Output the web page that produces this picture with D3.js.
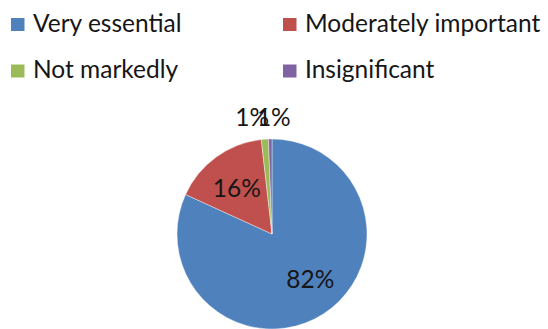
<!DOCTYPE html>
<html>
<head>
<meta charset="utf-8">
<script src="https://cdn.jsdelivr.net/npm/d3@7"></script>
<style>
  html, body { margin: 0; padding: 0; background: #fff; }
  svg { display: block; font-family: Lato, "Open Sans", sans-serif; }
</style>
</head>
<body>
<svg id="chart" width="548" height="329"></svg>
<script>
// Survey answers and their shares
const categories = ["Very essential", "Moderately important", "Not markedly", "Insignificant"];
const shares = [81.9, 16.4, 1.2, 0.6];
const colors = ["#4F81BD", "#C0504D", "#9BBB59", "#8064A2"];

const svg = d3.select("#chart");
const textColor = "#161616";
const fontSize = 24.5;

// Legend: two columns, two rows (y values are text baselines)
const legendCol = d3.scaleOrdinal().domain([0, 1]).range([11, 283]);
const legendRow = d3.scaleOrdinal().domain([0, 1]).range([31.5, 78]);
const legend = svg.append("g").attr("class", "legend");
categories.forEach((name, i) => {
  const g = legend.append("g")
    .attr("transform", `translate(${legendCol(i % 2)},${legendRow(Math.floor(i / 2))})`);
  g.append("rect").attr("x", 0).attr("y", -13.5).attr("width", 13.5).attr("height", 13)
    .attr("fill", colors[i]);
  g.append("text").attr("x", 22).attr("y", 0)
    .attr("font-size", fontSize).attr("fill", textColor).text(name);
});

// Pie, clockwise from twelve o'clock
const cx = 272, cy = 234, r = 95;
const pie = d3.pie().value(d => d).sort(null);
const arcs = pie(shares);
const total = d3.sum(shares);
const arc = d3.arc().innerRadius(0).outerRadius(r);
const inner = d3.arc().innerRadius(r * 0.63).outerRadius(r * 0.63);
const outer = d3.arc().innerRadius(r + 22).outerRadius(r + 22);

const g = svg.append("g").attr("transform", `translate(${cx},${cy})`);
g.selectAll("path.slice").data(arcs).join("path")
  .attr("class", "slice")
  .attr("d", arc)
  .attr("fill", (d, i) => colors[i])
  .attr("stroke", "#fff").attr("stroke-width", 0.4);

// Percentage labels: inside for big slices, above the rim for the thin ones
const fmt = v => Math.round(v / total * 100) + "%";
const nudgeX = [6, 0, -11, 4];
const nudgeY = [-5, 3, 0, 0];
g.selectAll("text.lbl").data(arcs).join("text")
  .attr("class", "lbl")
  .attr("transform", (d, i) => {
    const p = (d.endAngle - d.startAngle) > 0.3 ? inner.centroid(d) : outer.centroid(d);
    return `translate(${p[0] + nudgeX[i]},${p[1] + nudgeY[i]})`;
  })
  .attr("text-anchor", "middle").attr("dy", "0.36em")
  .attr("font-size", fontSize).attr("fill", textColor)
  .text(d => fmt(d.value));
</script>
</body>
</html>
